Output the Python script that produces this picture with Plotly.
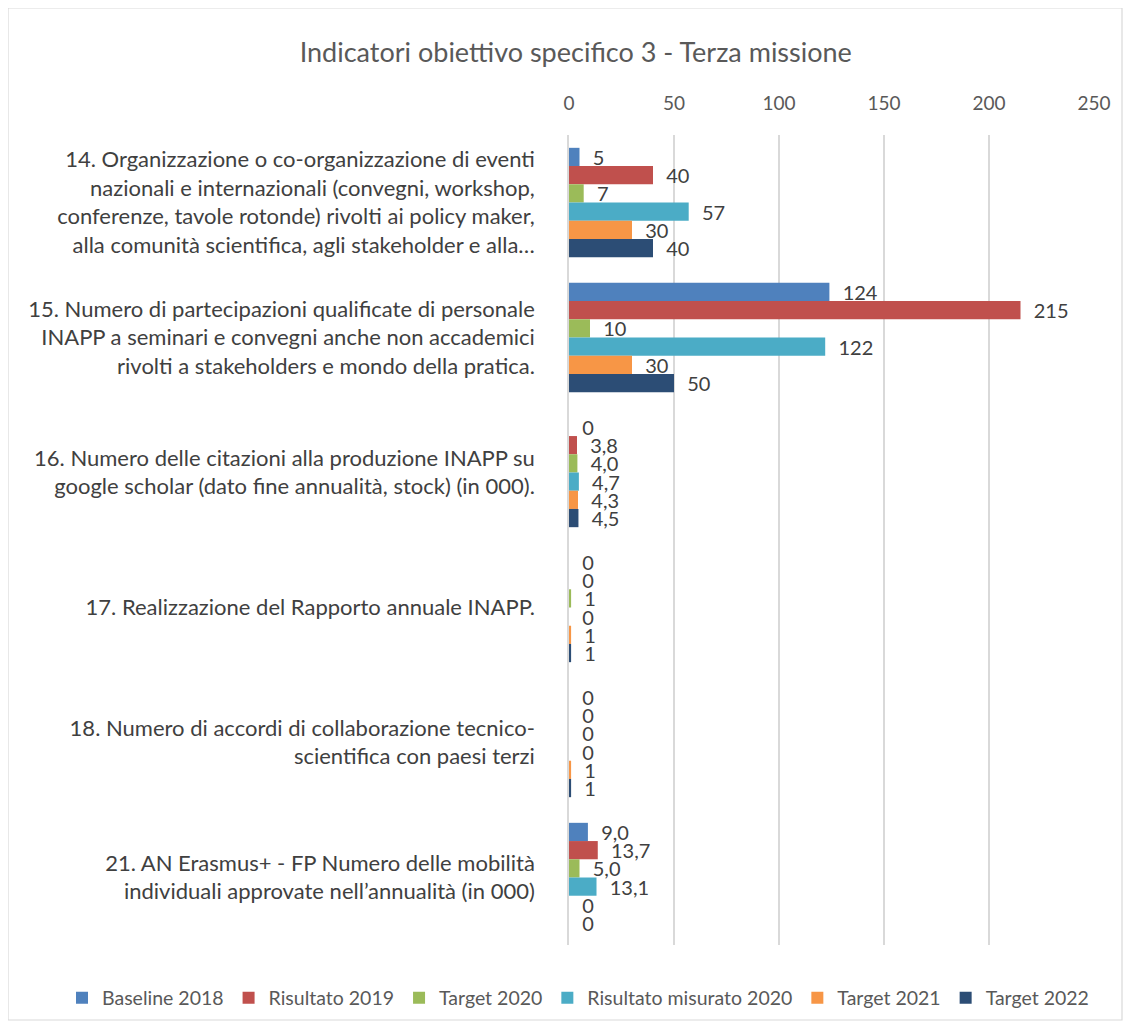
import plotly.graph_objects as go

categories = [
    "14. Organizzazione o co-organizzazione di eventi<br>nazionali e internazionali (convegni, workshop,<br>conferenze, tavole rotonde) rivolti ai policy maker,<br>alla comunità scientifica, agli stakeholder e alla…",
    "15. Numero di partecipazioni qualificate di personale<br>INAPP a seminari e convegni anche non accademici<br>rivolti a stakeholders e mondo della pratica.",
    "16. Numero delle citazioni alla produzione INAPP su<br>google scholar (dato fine annualità, stock) (in 000).",
    "17. Realizzazione del Rapporto annuale INAPP.",
    "18. Numero di accordi di collaborazione tecnico-<br>scientifica con paesi terzi",
    "21. AN Erasmus+ - FP Numero delle mobilità<br>individuali approvate nell’annualità (in 000)",
]
decimals = [0, 0, 1, 0, 0, 1]

series_names = ["Baseline 2018", "Risultato 2019", "Target 2020",
                "Risultato misurato 2020", "Target 2021", "Target 2022"]
baseline_2018 = [5, 124, 0, 0, 0, 9.0]
risultato_2019 = [40, 215, 3.8, 0, 0, 13.7]
target_2020 = [7, 10, 4.0, 1, 0, 5.0]
risultato_misurato_2020 = [57, 122, 4.7, 0, 0, 13.1]
target_2021 = [30, 30, 4.3, 1, 1, 0]
target_2022 = [40, 50, 4.5, 1, 1, 0]
series_values = [baseline_2018, risultato_2019, target_2020,
                 risultato_misurato_2020, target_2021, target_2022]
colors = ["#4F81BD", "#C0504D", "#9BBB59", "#4BACC6", "#F79646", "#2C4D75"]

x_ticks = [0, 50, 100, 150, 200, 250]


def fmt(v, d):
    if v == 0:
        s = "0"
    elif d:
        s = f"{v:.{d}f}".replace(".", ",")
    else:
        s = f"{v:.0f}"
    return "\u00a0\u00a0" + s


FONT = "Lato, Open Sans, sans-serif"
W, H = 1131, 1028
L, R, T, B = 561, 45, 127, 91
PW, PH = W - L - R, H - T - B

fig = go.Figure()
for name, vals, col in zip(series_names, series_values, colors):
    fig.add_trace(go.Bar(
        y=categories, x=vals, name=name, orientation="h",
        marker=dict(color=col, line=dict(width=0)),
        text=[fmt(v, d) for v, d in zip(vals, decimals)],
        textposition="outside", constraintext="none", cliponaxis=False,
        textfont=dict(family=FONT, size=20, color="#404040"),
    ))

fig.update_layout(
    width=W, height=H,
    barmode="group", bargap=0.19, bargroupgap=0,
    paper_bgcolor="white", plot_bgcolor="white",
    margin=dict(l=L, r=R, t=T, b=B, autoexpand=False),
    title=dict(text="Indicatori obiettivo specifico 3 - Terza missione",
               x=0.502, xref="container", xanchor="center",
               y=1 - 45 / H, yref="container", yanchor="middle",
               font=dict(family=FONT, size=27, color="#595959")),
    font=dict(family=FONT, color="#404040"),
    xaxis=dict(side="top", range=[0, 250], tickvals=x_ticks,
               showgrid=True, gridcolor="#D9D9D9", gridwidth=1.5,
               zeroline=False, showline=False,
               ticks="outside", ticklen=16, tickcolor="rgba(0,0,0,0)",
               tickfont=dict(family=FONT, size=19, color="#595959")),
    yaxis=dict(autorange="reversed", showgrid=False, zeroline=False,
               showline=True, linecolor="#D9D9D9", linewidth=1.5,
               ticks="outside", ticklen=28, tickcolor="rgba(0,0,0,0)",
               tickfont=dict(family=FONT, size=22, color="#404040")),
    legend=dict(orientation="h", x=(54 - L) / PW, xref="paper", xanchor="left",
                y=-(990 - (H - B)) / PH, yref="paper", yanchor="middle",
                font=dict(family=FONT, size=19.5, color="#595959"),
                itemwidth=30, tracegroupgap=0),
    showlegend=True,
)
fig.add_shape(type="rect", xref="paper", yref="paper",
              x0=(0 - L) / PW, x1=(1114 - L) / PW,
              y0=-(1012 - (H - B)) / PH, y1=1 + T / PH,
              line=dict(color="#D9D9D9", width=1.2), fillcolor="rgba(0,0,0,0)", layer="below")

fig.write_html("out.html")
